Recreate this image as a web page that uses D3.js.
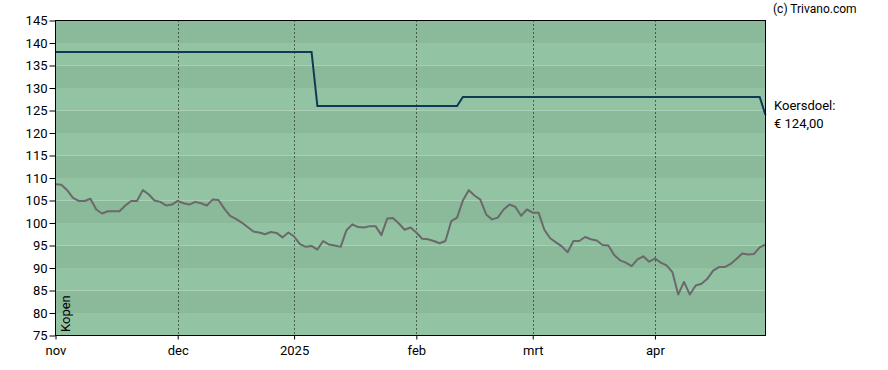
<!DOCTYPE html>
<html>
<head>
<meta charset="utf-8">
<script src="https://cdn.jsdelivr.net/npm/d3@7"></script>
<style>
body { margin:0; background:#fff; }
svg text { font-family: Roboto, "Liberation Sans", sans-serif; }
</style>
</head>
<body>
<svg id="chart" width="888" height="370"></svg>
<script>
// slotkoers per handelsdag (index 0 = begin nov)
var koers = [108.6,108.5,107.3,105.6,104.9,104.9,105.4,103.0,102.1,102.6,
             102.6,102.6,103.9,104.9,104.9,107.3,106.4,105.0,104.7,103.9,
             104.1,104.9,104.4,104.1,104.7,104.4,103.9,105.2,105.1,103.2,
             101.6,100.9,100.1,99.1,98.1,97.9,97.5,98.0,97.8,96.8,
             97.9,97.0,95.3,94.7,94.9,94.1,96.0,95.2,95.0,94.7,
             98.4,99.7,99.1,99.0,99.3,99.3,97.3,101.0,101.1,99.9,
             98.5,99.0,97.9,96.5,96.4,96.0,95.5,96.0,100.4,101.2,
             105.0,107.3,106.1,105.2,101.9,100.8,101.2,103.0,104.1,103.6,
             101.6,103.0,102.3,102.3,98.5,96.6,95.7,94.8,93.5,96.0,
             96.0,96.9,96.4,96.1,95.1,95.0,92.9,91.7,91.2,90.4,
             91.9,92.6,91.4,92.1,91.2,90.6,89.1,84.1,86.9,84.1,
             86.1,86.5,87.6,89.4,90.2,90.2,90.9,92.0,93.2,93.0,
             93.1,94.6,95.2];

// koersdoel (trap)
var doelIdx = [0, 44, 45, 69, 70, 121, 122];
var doelVal = [138, 138, 126, 126, 128, 128, 124];

var maandLabels = ["nov", "dec", "2025", "feb", "mrt", "apr"];
var maandIdx = [0, 21, 41, 62, 82, 103];
var yTicks = [75, 80, 85, 90, 95, 100, 105, 110, 115, 120, 125, 130, 135, 140, 145];

var svg = d3.select("#chart");
var pLeft = 55.5, pRight = 765.5, pTop = 20.5, pBottom = 335.5;

var xScale = d3.scaleLinear()
    .domain([0, koers.length - 1])
    .range([pLeft, pRight]);

var yScale = d3.scaleLinear()
    .domain([75, 145])
    .range([pBottom, pTop]);

// banden
var bands = yTicks.slice(0, -1).map(function(d, i) { return {lo: d, hi: yTicks[i + 1]} });
svg.append("g").selectAll("rect")
    .data(bands)
    .enter().append("rect")
    .attr("x", pLeft)
    .attr("width", pRight - pLeft)
    .attr("y", function(d) { return yScale(d.hi) })
    .attr("height", function(d) { return yScale(d.lo) - yScale(d.hi) })
    .attr("fill", function(d) { return ((145 - d.hi) / 5) % 2 == 0 ? "#8aba9a" : "#92c4a3" });

// maand gridlijnen
svg.append("g").selectAll("line")
    .data(maandIdx.slice(1))
    .enter().append("line")
    .attr("x1", function(d) { return Math.round(xScale(d)) + 0.5 })
    .attr("x2", function(d) { return Math.round(xScale(d)) + 0.5 })
    .attr("y1", pTop)
    .attr("y2", pBottom)
    .attr("stroke", "#000")
    .attr("stroke-dasharray", "1,3");

// koersdoel lijn
var doel = doelIdx.map(function(d, i) { return [d, doelVal[i]] });
svg.append("path")
    .datum(doel)
    .attr("fill", "none")
    .attr("stroke", "#0f3a57")
    .attr("stroke-width", 2)
    .attr("d", d3.line()
        .x(function(d) { return xScale(d[0]) })
        .y(function(d) { return yScale(d[1]) }));

// koers lijn
svg.append("path")
    .datum(koers)
    .attr("fill", "none")
    .attr("stroke", "#6c686c")
    .attr("stroke-width", 2)
    .attr("stroke-linejoin", "round")
    .attr("d", d3.line()
        .x(function(d, i) { return xScale(i) })
        .y(function(d) { return yScale(d) }));

// kader
svg.append("rect")
    .attr("x", pLeft)
    .attr("y", pTop)
    .attr("width", pRight - pLeft)
    .attr("height", pBottom - pTop)
    .attr("fill", "none")
    .attr("stroke", "#000");

// assen
var yAxis = svg.append("g")
    .attr("transform", "translate(" + pLeft + ",0)")
    .call(d3.axisLeft(yScale).tickValues(yTicks).tickSize(6).tickPadding(2));
yAxis.select(".domain").remove();
yAxis.selectAll("text").attr("font-size", 13).attr("fill", "#000");

var xAxis = svg.append("g")
    .attr("transform", "translate(0," + pBottom + ")")
    .call(d3.axisBottom(xScale).tickValues(maandIdx)
        .tickFormat(function(d, i) { return maandLabels[i] })
        .tickSize(4).tickPadding(6));
xAxis.select(".domain").remove();
xAxis.selectAll("text").attr("font-size", 13).attr("fill", "#000");

// teksten
svg.append("text")
    .attr("transform", "translate(69.5,332) rotate(-90)")
    .attr("font-size", 13)
    .attr("fill", "#000")
    .text("Kopen");

svg.append("text")
    .attr("x", 773)
    .attr("y", 13)
    .attr("font-size", 12)
    .attr("fill", "#000")
    .text("(c) Trivano.com");

svg.append("text")
    .attr("x", 774)
    .attr("y", 110)
    .attr("font-size", 13)
    .attr("fill", "#000")
    .text("Koersdoel:");

svg.append("text")
    .attr("x", 774)
    .attr("y", 128)
    .attr("font-size", 13)
    .attr("fill", "#000")
    .text("€ 124,00");
</script>
</body>
</html>
